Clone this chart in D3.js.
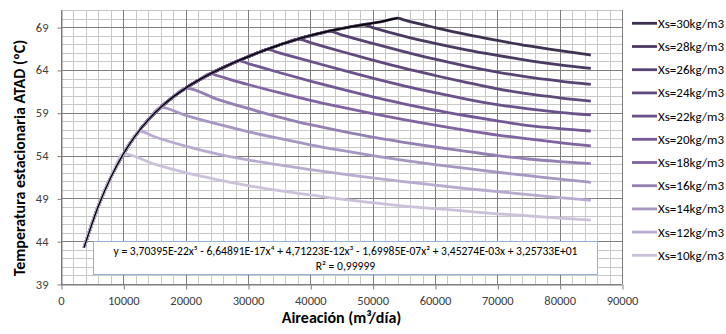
<!DOCTYPE html>
<html><head><meta charset="utf-8">
<script src="https://cdn.jsdelivr.net/npm/d3@7"></script>
<style>
html,body{margin:0;padding:0;background:#fff;}
svg{display:block;font-family:Carlito, Lato, "Liberation Sans", sans-serif;}
</style></head><body>
<svg id="chart" width="726" height="334"></svg>
<script>
// ---- data ----
const seriesNames = ["Xs=30kg/m3","Xs=28kg/m3","Xs=26kg/m3","Xs=24kg/m3","Xs=22kg/m3","Xs=20kg/m3","Xs=18kg/m3","Xs=16kg/m3","Xs=14kg/m3","Xs=12kg/m3","Xs=10kg/m3"];
const seriesColors = ["#3f3151","#4b3a62","#574473","#604a7b","#6a528a","#735a96","#8064a2","#9480b2","#a696c1","#b8abcf","#ccc1da"];
// common rising branch (all series) / trend line
const trendX = [3700,6000,8000,10000,12000,14000,16000,18000,20000,22000,24000,26000,28000,30000,32000,34000,36000,38000,40000,42000,44000,46000,48000,50000,52000,54000];
const trendY = [43.25,48.10,51.47,54.19,56.38,58.17,59.63,60.85,61.88,62.77,63.56,64.27,64.93,65.54,66.12,66.65,67.15,67.60,68.01,68.37,68.69,68.97,69.22,69.47,69.74,70.06];
// break point of each series (end of common branch)
const breakX = [54000,48500,43000,38000,33000,28500,24000,20000,16000,12500,10000];
const breakY = [70.06,69.28,68.53,67.60,66.39,65.09,63.56,61.88,59.63,56.87,54.19];
// descending branches
const s30 = [[55000,69.85],[60000,68.95],[65000,68.15],[70000,67.45],[75000,66.8],[80000,66.25],[85000,65.74]];
const s28 = [[50000,68.95],[55000,67.95],[60000,67.1],[65000,66.35],[70000,65.7],[75000,65.1],[80000,64.6],[85000,64.19]];
const s26 = [[45000,68.1],[50000,67.1],[55000,66.15],[60000,65.25],[65000,64.45],[70000,63.75],[75000,63.15],[80000,62.7],[85000,62.32]];
const s24 = [[40000,67.2],[45000,66.15],[50000,65.15],[55000,64.2],[60000,63.35],[65000,62.55],[70000,61.8],[75000,61.2],[80000,60.75],[85000,60.37]];
const s22 = [[35000,66.0],[40000,65.0],[45000,64.0],[50000,63.05],[55000,62.15],[60000,61.35],[65000,60.6],[70000,59.95],[75000,59.45],[80000,59.05],[85000,58.74]];
const s20 = [[30000,64.75],[35000,63.7],[40000,62.7],[45000,61.75],[50000,60.85],[55000,60.05],[60000,59.3],[65000,58.65],[70000,58.05],[75000,57.5],[80000,57.15],[85000,56.87]];
const s18 = [[25000,63.35],[30000,62.3],[35000,61.35],[40000,60.45],[45000,59.65],[50000,58.9],[55000,58.2],[60000,57.55],[65000,56.95],[70000,56.4],[75000,55.95],[80000,55.5],[85000,55.12]];
const s16 = [[25000,60.6],[30000,59.5],[35000,58.5],[40000,57.6],[45000,56.85],[50000,56.15],[55000,55.55],[60000,55.0],[65000,54.5],[70000,54.0],[75000,53.6],[80000,53.3],[85000,53.05]];
const s14 = [[20000,58.7],[25000,57.7],[30000,56.8],[35000,56.0],[40000,55.25],[45000,54.6],[50000,54.0],[55000,53.45],[60000,52.95],[65000,52.5],[70000,52.05],[75000,51.65],[80000,51.25],[85000,50.88]];
const s12 = [[15000,56.2],[20000,55.1],[25000,54.2],[30000,53.5],[35000,52.9],[40000,52.35],[45000,51.85],[50000,51.4],[55000,50.95],[60000,50.55],[65000,50.15],[70000,49.8],[75000,49.45],[80000,49.1],[85000,48.78]];
const s10 = [[15000,53.0],[20000,52.0],[25000,51.2],[30000,50.5],[35000,49.9],[40000,49.4],[45000,48.9],[50000,48.5],[55000,48.1],[60000,47.8],[65000,47.5],[70000,47.2],[75000,46.95],[80000,46.7],[85000,46.47]];
const descending = [s30,s28,s26,s24,s22,s20,s18,s16,s14,s12,s10];
const xTicks = [0,10000,20000,30000,40000,50000,60000,70000,80000,90000];
const yTicks = [39,44,49,54,59,64,69];
const equationText = "y = 3,70395E-22x\u2075 - 6,64891E-17x\u2074 + 4,71223E-12x\u00B3 - 1,69985E-07x\u00B2 + 3,45274E-03x + 3,25733E+01";
const r2Text = "R\u00B2 = 0,99999";
const xTitle = "Aireación (m\u00B3/día)";
const yTitle = "Temperatura estacionaria ATAD (ºC)";

// ---- layout ----
const svg = d3.select("#chart");
const L = 61, R = 622, T = 10, B = 284;
const x = d3.scaleLinear().domain([0, 90000]).range([L, R]);
const y = d3.scaleLinear().domain([39, 71]).range([B, T]);
const FONT = "Carlito, Lato, sans-serif";

const grid = svg.append("g");
// minor grid
grid.selectAll(".vmin").data(d3.range(0, 90001, 2000)).join("line")
  .attr("x1", d => Math.round(x(d)) + 0.5).attr("x2", d => Math.round(x(d)) + 0.5)
  .attr("y1", T).attr("y2", B).attr("stroke", "#c8c8c8");
grid.selectAll(".hmin").data(d3.range(39, 71.01, 1)).join("line")
  .attr("y1", d => Math.round(y(d)) + 0.5).attr("y2", d => Math.round(y(d)) + 0.5)
  .attr("x1", L).attr("x2", R).attr("stroke", "#c8c8c8");
// major grid
grid.selectAll(".vmaj").data(xTicks).join("line")
  .attr("x1", d => Math.round(x(d)) + 0.5).attr("x2", d => Math.round(x(d)) + 0.5)
  .attr("y1", T).attr("y2", B).attr("stroke", "#7f7f7f");
grid.selectAll(".hmaj").data(yTicks).join("line")
  .attr("y1", d => Math.round(y(d)) + 0.5).attr("y2", d => Math.round(y(d)) + 0.5)
  .attr("x1", L).attr("x2", R).attr("stroke", "#7f7f7f");

// axes
const xAxis = svg.append("g").attr("transform", `translate(0,${Math.round(B)+0.5})`)
  .call(d3.axisBottom(x).tickValues(xTicks).tickFormat(d3.format("d")).tickSize(5).tickSizeOuter(0).tickPadding(7));
const yAxis = svg.append("g").attr("transform", `translate(${Math.round(L)+0.5},0)`)
  .call(d3.axisLeft(y).tickValues(yTicks).tickFormat(d3.format("d")).tickSize(4).tickSizeOuter(0).tickPadding(9));
[xAxis, yAxis].forEach(a => {
  a.select(".domain").attr("stroke", "#7f7f7f");
  a.selectAll(".tick line").attr("stroke", "#7f7f7f");
  a.selectAll(".tick text").attr("fill", "#404040").style("font-size", "12.5px").style("font-family", FONT);
});
xAxis.selectAll(".tick line").attr("transform", "translate(0.5,0)");
yAxis.selectAll(".tick line").attr("transform", "translate(0,0.5)");

// series
const line = d3.line().x(d => x(d[0])).y(d => y(d[1])).curve(d3.curveMonotoneX);
const seriesPts = seriesNames.map((n, i) => {
  const rise = trendX.map((tx, k) => [tx, trendY[k]]).filter(p => p[0] < breakX[i]);
  return rise.concat([[breakX[i], breakY[i]]], descending[i]);
});
svg.append("g").selectAll("path").data(seriesPts).join("path")
  .attr("d", line).attr("fill", "none")
  .attr("stroke", (d, i) => seriesColors[i]).attr("stroke-width", 2.8)
  .attr("stroke-linejoin", "round");

// trend line
svg.append("path").datum(trendX.map((tx, k) => [tx, trendY[k]]))
  .attr("d", line).attr("fill", "none").attr("stroke", "#000").attr("stroke-width", 1.4);

// equation box
svg.append("rect").attr("x", 93.5).attr("y", 241.5).attr("width", 504).attr("height", 33)
  .attr("fill", "#fff").attr("stroke", "#95b3d7");
svg.append("text").attr("x", 345.5).attr("y", 255).attr("text-anchor", "middle")
  .style("font-size", "11.6px").attr("fill", "#000").text(equationText);
svg.append("text").attr("x", 345.5).attr("y", 270).attr("text-anchor", "middle")
  .style("font-size", "11.6px").attr("fill", "#000").text(r2Text);

// titles
svg.append("text").attr("x", (L + R) / 2).attr("y", 323).attr("text-anchor", "middle")
  .style("font-size", "16px").style("font-weight", "bold").attr("fill", "#000").text(xTitle);
svg.append("text").attr("transform", "translate(25,158) rotate(-90)").attr("text-anchor", "middle")
  .style("font-size", "16px").style("font-weight", "bold").attr("fill", "#000").text(yTitle);

// legend
const lg = svg.append("g");
seriesNames.forEach((n, i) => {
  const ly = 23.3 + i * 23.2;
  lg.append("line").attr("x1", 632).attr("x2", 657).attr("y1", ly).attr("y2", ly)
    .attr("stroke", seriesColors[i]).attr("stroke-width", 2.8);
  lg.append("text").attr("x", 658).attr("y", ly).attr("dy", "0.35em")
    .style("font-size", "13px").attr("fill", "#000").text(n);
});
</script>
</body></html>
